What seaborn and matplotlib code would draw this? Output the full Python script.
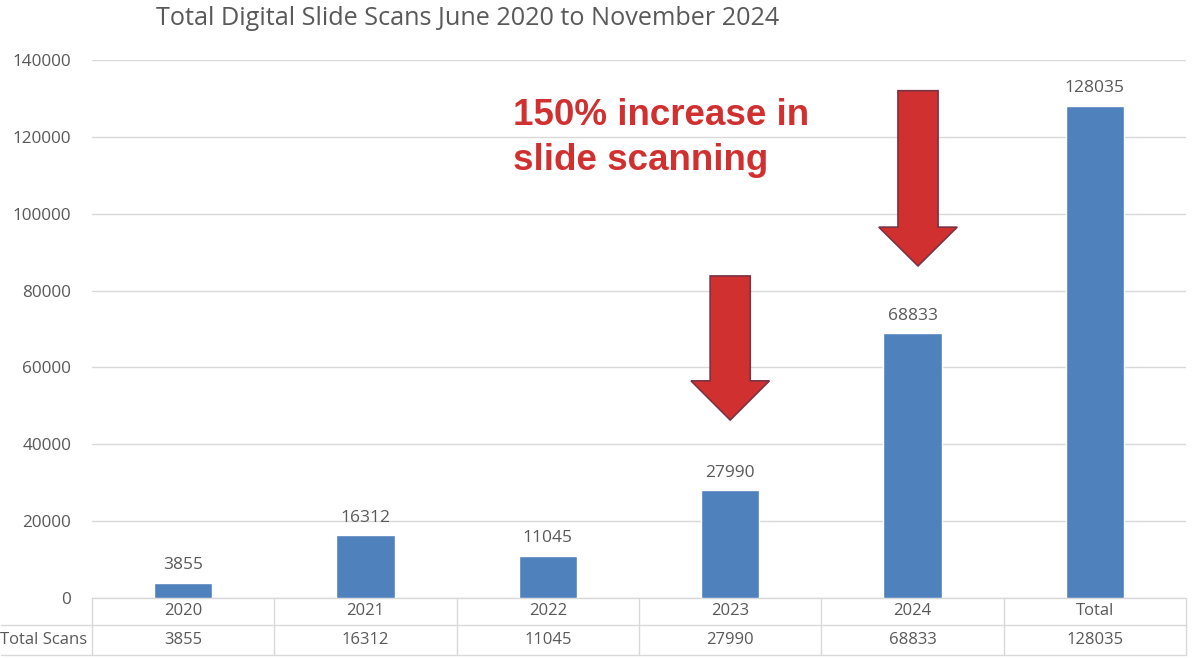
import numpy as np
import pandas as pd
import matplotlib
matplotlib.use("Agg")
import matplotlib.pyplot as plt
from matplotlib.patches import Polygon
import seaborn as sns

# data
categories = ["2020", "2021", "2022", "2023", "2024", "Total"]
scans = [3855, 16312, 11045, 27990, 68833, 128035]
row_label = "Total Scans"
title = "Total Digital Slide Scans June 2020 to November 2024"
callout = "150% increase in\nslide scanning"

# arrows: (category index, x offset, shaft top, head base, tip) in data units
arrows = [(3, 0.0, 83800, 56500, 46300),
          (4, 0.03, 132000, 96500, 86400)]

df = pd.DataFrame({"Year": categories, "Scans": scans})

sns.set_theme(style="white")
plt.rcParams["font.family"] = ["Open Sans", "DejaVu Sans"]

grey = "#595959"
blue = "#4F81BD"
red = "#D0302F"

fig = plt.figure(figsize=(11.92, 6.59), dpi=100)
ax = fig.add_axes([0.0772, 0.0926, 0.9178, 0.8164])

sns.barplot(data=df, x="Year", y="Scans", color=blue, width=0.32,
            saturation=1, ax=ax, zorder=3)
ax.set_xlim(-0.5, 5.5)
ax.set_ylim(0, 140000)
ax.set_yticks(np.arange(0, 140001, 20000))
ax.set_yticklabels([str(v) for v in range(0, 140001, 20000)], color=grey, fontsize=12.3)
ax.tick_params(axis="y", length=0, pad=15)
ax.set_xticks([])
ax.set_xlabel("")
ax.set_ylabel("")
ax.grid(axis="y", color="#D9D9D9", linewidth=1, zorder=0)
for s in ax.spines.values():
    s.set_visible(False)

for c in ax.containers:
    ax.bar_label(c, labels=[str(v) for v in scans], padding=7, color=grey, fontsize=12.5)

ax.set_title(title, color=grey, fontsize=18.2, x=0.343, y=1.05)

# red arrows
hw_shaft, hw_head = 0.11, 0.215
for i, dx, top, base, tip in arrows:
    cx = i + dx
    pts = [(cx - hw_shaft, top), (cx + hw_shaft, top), (cx + hw_shaft, base),
           (cx + hw_head, base), (cx, tip), (cx - hw_head, base),
           (cx - hw_shaft, base)]
    ax.add_patch(Polygon(pts, closed=True, facecolor=red, edgecolor="#7B3344",
                         linewidth=1.2, zorder=4))

ax.text(1.81, 130200, callout, color=red, fontsize=26.5, fontweight="bold",
        family=["Liberation Sans", "DejaVu Sans"], va="top", ha="left",
        linespacing=1.38)

# data table under the axis
trans = ax.get_xaxis_transform()
line_kw = dict(color="#D9D9D9", linewidth=1, transform=trans, clip_on=False)
r1, r2 = -0.0502, -0.106
ax.plot([-0.5, 5.5], [0, 0], **line_kw)
ax.plot([-1.0, 5.5], [r1, r1], **line_kw)
ax.plot([-1.0, 5.5], [r2, r2], **line_kw)
for xv in np.arange(-0.5, 5.51, 1):
    ax.plot([xv, xv], [0, r2], **line_kw)
for i, (cat, v) in enumerate(zip(categories, scans)):
    ax.text(i, -0.025, cat, transform=trans, ha="center", va="center",
            color=grey, fontsize=12)
    ax.text(i, -0.0775, str(v), transform=trans, ha="center", va="center",
            color=grey, fontsize=12)
ax.text(-0.765, -0.0775, row_label, transform=trans, ha="center", va="center",
        color=grey, fontsize=12)

fig.savefig("out.png", dpi=100)
